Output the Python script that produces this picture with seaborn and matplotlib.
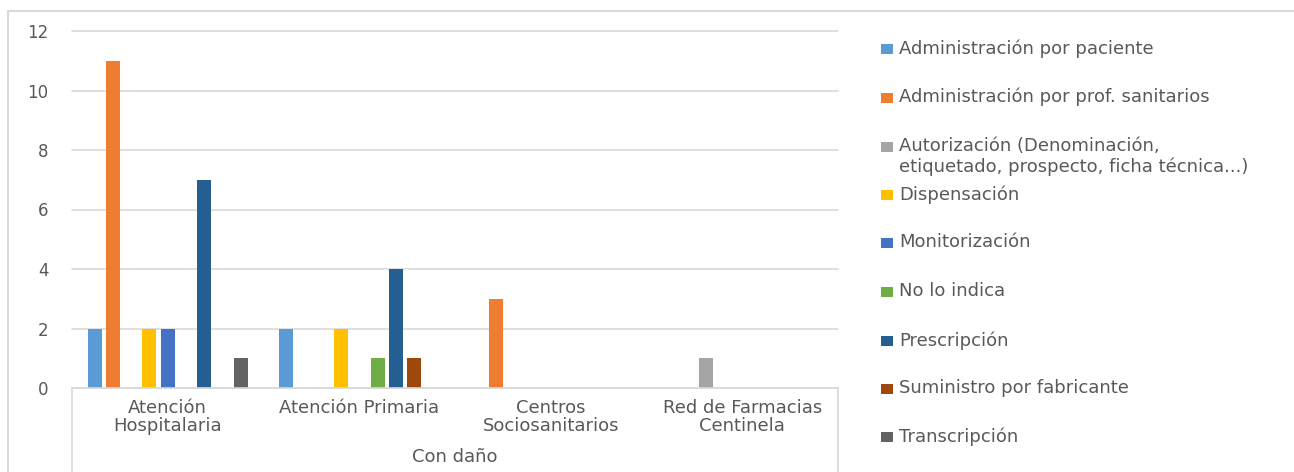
import matplotlib
matplotlib.use("Agg")
import matplotlib.pyplot as plt
from matplotlib.lines import Line2D
from matplotlib.patches import Rectangle
import seaborn as sns
import pandas as pd

categories = ["Atención\nHospitalaria", "Atención Primaria", "Centros\nSociosanitarios", "Red de Farmacias\nCentinela"]
series = [
    "Administración por paciente",
    "Administración por prof. sanitarios",
    "Autorización (Denominación,\netiquetado, prospecto, ficha técnica...)",
    "Dispensación",
    "Monitorización",
    "No lo indica",
    "Prescripción",
    "Suministro por fabricante",
    "Transcripción",
]
values = {
    "Administración por paciente": [2, 2, 0, 0],
    "Administración por prof. sanitarios": [11, 0, 3, 0],
    "Autorización (Denominación,\netiquetado, prospecto, ficha técnica...)": [0, 0, 0, 1],
    "Dispensación": [2, 2, 0, 0],
    "Monitorización": [2, 0, 0, 0],
    "No lo indica": [0, 1, 0, 0],
    "Prescripción": [7, 4, 0, 0],
    "Suministro por fabricante": [0, 1, 0, 0],
    "Transcripción": [1, 0, 0, 0],
}
colors = ["#5B9BD5", "#ED7D31", "#A5A5A5", "#FFC000", "#4472C4", "#70AD47", "#255E91", "#9E480E", "#636363"]
group_label = "Con daño"
yticks = [0, 2, 4, 6, 8, 10, 12]

rows = []
for s in series:
    for c, v in zip(categories, values[s]):
        rows.append({"cat": c, "serie": s, "val": v})
df = pd.DataFrame(rows)

sns.set_theme(style="white")
plt.rcParams["font.family"] = ["DejaVu Sans"]

W, H = 1294, 472
fig = plt.figure(figsize=(W / 100, H / 100), dpi=100)
ax = fig.add_axes([72 / W, 1 - 388 / H, (838 - 72) / W, (388 - 31) / H])

sns.barplot(data=df, x="cat", y="val", hue="serie", order=categories, hue_order=series,
            palette=colors, saturation=1, width=0.86, gap=0.23, linewidth=0, ax=ax, legend=False)

txt = "#595959"
grid = "#D9D9D9"
ax.set_ylim(0, 12)
ax.set_xlim(-0.5, 3.5)
ax.set_yticks(yticks)
ax.set_yticklabels([str(t) for t in yticks], color=txt, fontsize=12)
ax.tick_params(axis="y", length=0, pad=17)
ax.yaxis.grid(True, color=grid, linewidth=1.2)
for gl in ax.get_ygridlines():
    gl.set_clip_on(False)
ax.set_axisbelow(True)
for sp in ["top", "right", "left"]:
    ax.spines[sp].set_visible(False)
ax.spines["bottom"].set_color(grid)
ax.spines["bottom"].set_linewidth(1.2)
ax.set_xticks(range(len(categories)))
ax.set_xticklabels([])
ax.tick_params(axis="x", length=0)
ax.set_xlabel("")
ax.set_ylabel("")

for i, c in enumerate(categories):
    ax.text(i, -0.38, c, ha="center", va="top", color=txt, fontsize=13, linespacing=1.0,
            transform=ax.transData, clip_on=False)
fig.text((72 + 838) / 2 / W, 1 - 457 / H, group_label, ha="center", va="center", color=txt, fontsize=13)

# category axis box lines and outer border
for x in (72, 838):
    fig.add_artist(Line2D([x / W, x / W], [1 - 388 / H, 0], color=grid, linewidth=1.2))
fig.add_artist(Line2D([8 / W, 8 / W], [1 - 11 / H, 0], color=grid, linewidth=1.5))
fig.add_artist(Line2D([8 / W, 1], [1 - 11 / H, 1 - 11 / H], color=grid, linewidth=1.5))

# legend
ys = [49, 98, 147, 195, 243, 292, 341, 389, 437]
for s, col, y in zip(series, colors, ys):
    fig.add_artist(Rectangle((881 / W, 1 - (y + 5) / H), 12 / W, 10 / H, facecolor=col,
                             edgecolor="none", transform=fig.transFigure))
    fig.text(899 / W, 1 - (y - 10) / H, s, ha="left", va="top", color=txt, fontsize=13, linespacing=1.15)

fig.savefig("out.png", dpi=100, facecolor="white")
